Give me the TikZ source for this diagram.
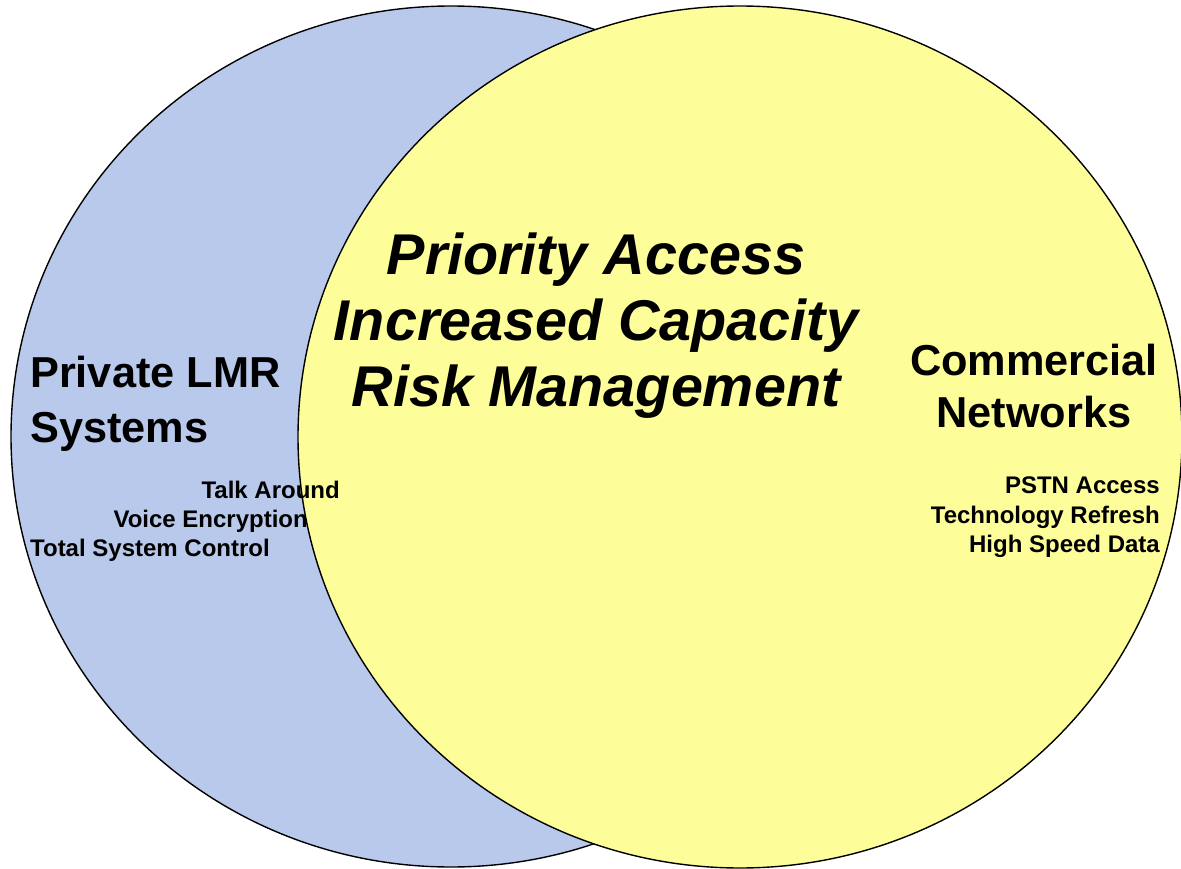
\documentclass[tikz,border=0pt]{standalone}
\usepackage{fontspec}
\setmainfont{Liberation Sans}
\definecolor{lmrblue}{RGB}{185,201,235}
\definecolor{comyellow}{RGB}{253,253,153}
\begin{document}
\begin{tikzpicture}[x=1pt,y=-1pt,
  setshape/.style={draw=black,line width=1.4pt},
  bigtitle/.style={font=\fontsize{43.3}{55}\selectfont\bfseries,inner sep=0pt},
  centertext/.style={font=\fontsize{57.5}{65}\selectfont\bfseries\itshape,inner sep=0pt},
  smalltext/.style={font=\fontsize{24}{29}\selectfont\bfseries,inner sep=0pt}]
\useasboundingbox (0,0) rectangle (1181,869);
\begin{scope}
\clip (0,0) rectangle (1181,869);
\path[setshape,fill=lmrblue] (451,436.5) ellipse [x radius=440, y radius=430.5];
\path[setshape,fill=comyellow] (740,437) ellipse [x radius=442, y radius=431];
\end{scope}
% center text
\node[centertext,anchor=base] (c1) at (596,274) {Priority Access};
\node[centertext,anchor=base] (c2) at (596,340) {Increased Capacity};
\node[centertext,anchor=base] (c3) at (596,406) {Risk Management};
% left
\node[bigtitle,anchor=base west] (l1) at (30,387) {Private LMR};
\node[bigtitle,anchor=base west] (l2) at (30,442) {Systems};
\node[smalltext,anchor=base east] (s1) at (340,498) {Talk Around};
\node[smalltext,anchor=base east] (s2) at (308,527) {Voice Encryption};
\node[smalltext,anchor=base west] (s3) at (30,556) {Total System Control};
% right
\node[bigtitle,anchor=base] (r1) at (1034,375) {Commercial};
\node[bigtitle,anchor=base] (r2) at (1034,427) {Networks};
\node[smalltext,anchor=base east] (t1) at (1160,493) {PSTN Access};
\node[smalltext,anchor=base east] (t2) at (1160,523) {Technology Refresh};
\node[smalltext,anchor=base east] (t3) at (1160,552) {High Speed Data};
\end{tikzpicture}
\end{document}
